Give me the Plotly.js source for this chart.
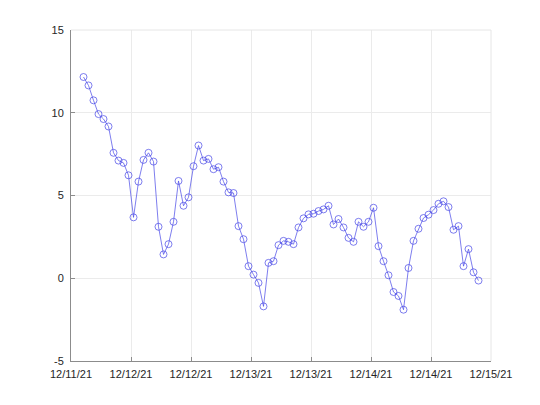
<!DOCTYPE html>
<html>
<head>
<meta charset="utf-8">
<script src="https://cdn.plot.ly/plotly-3.0.1.min.js"></script>
<style>html,body{margin:0;padding:0;background:#fff;}#chart{width:540px;height:405px;}</style>
</head>
<body>
<div id="chart"></div>
<script>
// Hourly samples starting at this time
const startTime = '2021-12-11T14:30:00';
const stepHours = 1;

const values = [
  12.16, 11.65, 10.75, 9.92, 9.62, 9.17, 7.58, 7.11, 6.97, 6.22,
  3.68, 5.84, 7.15, 7.58, 7.05, 3.11, 1.44, 2.06, 3.41, 5.88,
  4.38, 4.89, 6.77, 8.02, 7.11, 7.21, 6.59, 6.71, 5.84, 5.19,
  5.15, 3.15, 2.36, 0.73, 0.22, -0.28, -1.70, 0.93, 1.03, 2.00,
  2.26, 2.20, 2.06, 3.07, 3.62, 3.86, 3.90, 4.06, 4.16, 4.38,
  3.25, 3.58, 3.07, 2.44, 2.20, 3.41, 3.11, 3.41, 4.26, 1.94,
  1.03, 0.18, -0.83, -1.07, -1.90, 0.62, 2.26, 2.99, 3.64, 3.84,
  4.12, 4.50, 4.65, 4.30, 2.93, 3.15, 0.73, 1.76, 0.36, -0.14
];

const xRange = ['2021-12-11 12:00', '2021-12-15 00:00'];
const yTicks = [-5, 0, 5, 10, 15];

function pad(n){return (n<10?'0':'')+n;}
const t0 = new Date(startTime + 'Z').getTime();
const times = values.map((v, i) => {
  const d = new Date(t0 + i * stepHours * 3600000);
  return d.getUTCFullYear() + '-' + pad(d.getUTCMonth()+1) + '-' + pad(d.getUTCDate()) + ' ' +
         pad(d.getUTCHours()) + ':' + pad(d.getUTCMinutes());
});

const blue = 'rgb(70,70,230)';
const trace = {
  x: times,
  y: values,
  type: 'scatter',
  mode: 'lines+markers',
  line: {color: blue, width: 0.7},
  marker: {symbol: 'circle-open', size: 7, color: blue, line: {width: 0.7, color: blue}},
  hoverinfo: 'none'
};

const axisCommon = {
  showline: true,
  linecolor: '#8c8c8c',
  linewidth: 1,
  ticks: 'inside',
  ticklen: 4,
  tickcolor: '#8c8c8c',
  showgrid: true,
  gridcolor: '#ebebeb',
  gridwidth: 1,
  zeroline: false,
  tickfont: {family: 'Liberation Sans, Arial, sans-serif', size: 11, color: '#262626'},
  mirror: false
};

const layout = {
  width: 540,
  height: 405,
  margin: {l: 71, r: 49, t: 30, b: 44},
  paper_bgcolor: '#ffffff',
  plot_bgcolor: '#ffffff',
  showlegend: false,
  xaxis: Object.assign({}, axisCommon, {
    type: 'date',
    range: xRange,
    tick0: '2021-12-11 12:00',
    dtick: 12 * 3600000,
    tickformat: '%m/%d/%y',
    ticklabelstandoff: 3
  }),
  yaxis: Object.assign({}, axisCommon, {
    range: [-5, 15],
    tickvals: yTicks,
    ticktext: yTicks.map(String),
    ticklabelstandoff: 4
  }),
  shapes: [
    {type: 'line', xref: 'paper', yref: 'paper', x0: 0, x1: 1, y0: 1, y1: 1, line: {color: '#e6e6e6', width: 1}},
    {type: 'line', xref: 'paper', yref: 'paper', x0: 1, x1: 1, y0: 0, y1: 1, line: {color: '#e6e6e6', width: 1}}
  ]
};

Plotly.newPlot('chart', [trace], layout, {staticPlot: true, displayModeBar: false});
</script>
</body>
</html>
